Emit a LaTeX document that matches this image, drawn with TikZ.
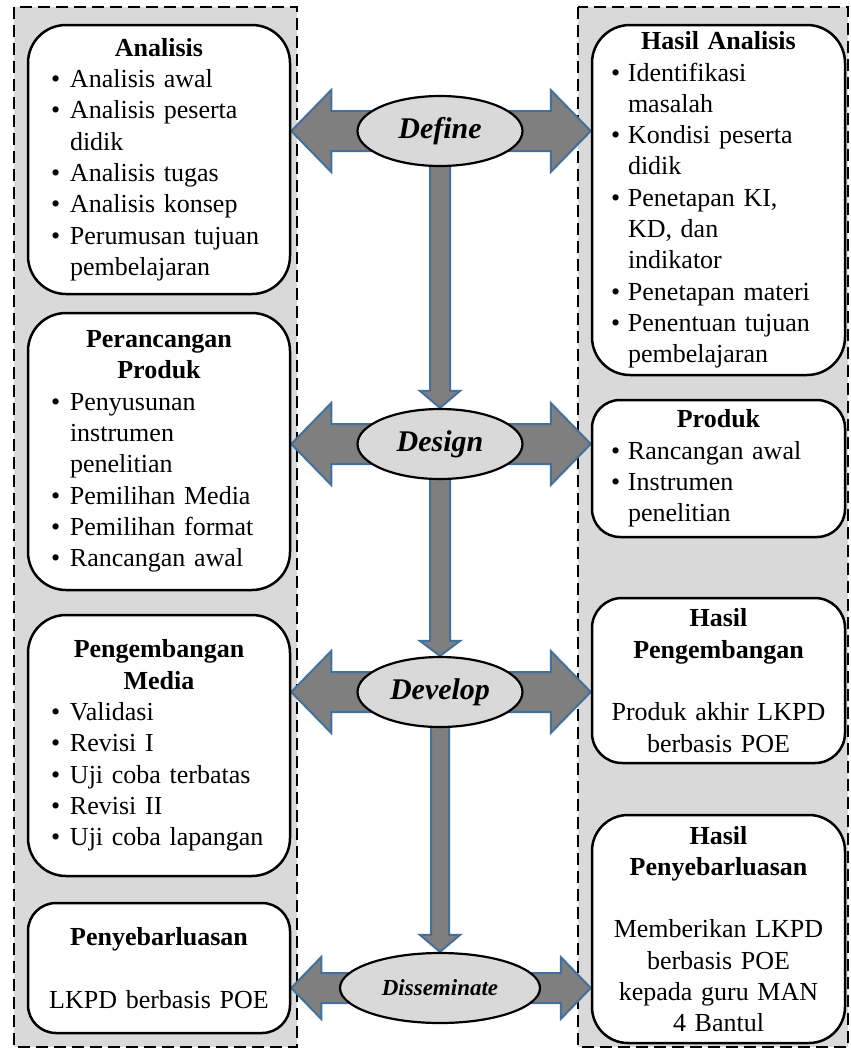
\documentclass[tikz,border=0pt]{standalone}
\usepackage{fontspec}
\setmainfont{Liberation Serif}
\usetikzlibrary{calc,shapes.geometric}
\definecolor{panelgray}{HTML}{D9D9D9}
\definecolor{arrowgray}{HTML}{7F7F7F}
\definecolor{arrowblue}{HTML}{41719C}
\pgfdeclarelayer{bg}\pgfdeclarelayer{mid}\pgfsetlayers{bg,mid,main}
\newlength\bulw
\newcommand\bul{\makebox[\bulw][l]{\textbullet}}
\newcommand\cont{\hspace*{\bulw}}
\newcommand\ttl[1]{\makebox[\linewidth]{\bfseries #1}}
\newcommand\ctr[1]{\makebox[\linewidth]{#1}}
% horizontal double arrow: left node, right node, centre node, shaft half, head half, head length
\newcommand\harrow[6]{%
  \path[arrowsty] let \p1=(#1.east), \p2=(#2.west), \p3=(#3.center) in
  (\x1,\y3) -- (\x1+#6pt,\y3+#5pt) -- (\x1+#6pt,\y3+#4pt) -- (\x2-#6pt,\y3+#4pt)
  -- (\x2-#6pt,\y3+#5pt) -- (\x2,\y3) -- (\x2-#6pt,\y3-#5pt) -- (\x2-#6pt,\y3-#4pt)
  -- (\x1+#6pt,\y3-#4pt) -- (\x1+#6pt,\y3-#5pt) -- cycle;}
% vertical arrow: from node, to node, shaft half, head half, head length
\newcommand\varrow[5]{%
  \path[arrowsty] let \p1=(#1.center), \p2=(#2.north) in
  (\x1-#3pt,\y1) -- (\x1-#3pt,\y2+#5pt) -- (\x1-#4pt,\y2+#5pt) -- (\x1,\y2)
  -- (\x1+#4pt,\y2+#5pt) -- (\x1+#3pt,\y2+#5pt) -- (\x1+#3pt,\y1) -- cycle;}
\begin{document}
\begin{tikzpicture}[x=1pt,y=-1pt,
  panel/.style={fill=panelgray, draw=black, line width=2.5pt, dash pattern=on 12pt off 6pt},
  boxbase/.style={draw=black, fill=white, line width=2.5pt, align=left, inner ysep=0pt,
    font=\fontsize{26}{31.3}\selectfont},
  lbox/.style={boxbase, inner xsep=23pt, text width=216pt, minimum width=262pt,
    execute at begin node={\setlength\bulw{19pt}}},
  rbox/.style={boxbase, inner xsep=19pt, text width=215pt, minimum width=253pt,
    execute at begin node={\setlength\bulw{17pt}}},
  phase/.style={ellipse, draw=black, fill=panelgray, line width=2.2pt, inner sep=0pt,
    minimum width=165pt, minimum height=70pt, font=\fontsize{30}{32}\selectfont\bfseries\itshape},
  arrowsty/.style={fill=arrowgray, draw=arrowblue, line width=2pt, line join=miter}]
\useasboundingbox (0,0) rectangle (851,1050);
\begin{pgfonlayer}{bg}
  \draw[panel] (14,7) rectangle (297,1047);
  \draw[panel] (578,7) rectangle (848,1047);
\end{pgfonlayer}
% left column
\node[lbox, rounded corners=38pt, minimum height=269pt] (analisis) at (159,159.5) {%
\ttl{Analisis}\\
\bul Analisis awal\\
\bul Analisis peserta\\
\cont didik\\
\bul Analisis tugas\\
\bul Analisis konsep\\
\bul Perumusan tujuan\\
\cont pembelajaran};
\node[lbox, rounded corners=38pt, minimum height=277pt] (rancang) at (159,451.5) {%
\ttl{Perancangan}\\
\ttl{Produk}\\
\bul Penyusunan\\
\cont instrumen\\
\cont penelitian\\
\bul Pemilihan Media\\
\bul Pemilihan format\\
\bul Rancangan awal};
\node[lbox, rounded corners=38pt, minimum height=261pt] (kembang) at (159,745.5) {%
\ttl{Pengembangan}\\
\ttl{Media}\\
\bul Validasi\\
\bul Revisi I\\
\bul Uji coba terbatas\\
\bul Revisi II\\
\bul Uji coba lapangan};
\node[lbox, rounded corners=28pt, minimum height=130pt] (sebar) at (159,968) {%
\ttl{Penyebarluasan}\\[31.3pt]
\ctr{LKPD berbasis POE}};
% right column
\node[rbox, rounded corners=38pt, minimum height=350pt] (hanalisis) at (718.5,200) {%
\ttl{Hasil Analisis}\\
\bul Identifikasi\\
\cont masalah\\
\bul Kondisi peserta\\
\cont didik\\
\bul Penetapan KI,\\
\cont KD, dan\\
\cont indikator\\
\bul Penetapan materi\\
\bul Penentuan tujuan\\
\cont pembelajaran};
\node[rbox, rounded corners=28pt, minimum height=137pt] (produk) at (718.5,468.5) {%
\ttl{Produk}\\
\bul Rancangan awal\\
\bul Instrumen\\
\cont penelitian};
\node[rbox, rounded corners=30pt, minimum height=165pt] (hkembang) at (718.5,680.5) {%
\ttl{Hasil}\\
\ttl{Pengembangan}\\[31.3pt]
\ctr{Produk akhir LKPD}\\
\ctr{berbasis POE}};
\node[rbox, rounded corners=36pt, minimum height=228pt] (hsebar) at (718.5,929) {%
\ttl{Hasil}\\
\ttl{Penyebarluasan}\\[31.3pt]
\ctr{Memberikan LKPD}\\
\ctr{berbasis POE}\\
\ctr{kepada guru MAN}\\
\ctr{4 Bantul}};
% phases
\node[phase] (define) at (440,131) {Define};
\node[phase] (design) at (440,444) {Design};
\node[phase] (develop) at (440,692) {Develop};
\node[phase, minimum width=200pt, font=\fontsize{23}{25}\selectfont\bfseries\itshape] (dissem) at (440,988) {Disseminate};
% arrows
\begin{pgfonlayer}{mid}
  \varrow{define}{design}{10}{20}{17}
  \varrow{design}{develop}{10}{20}{15}
  \varrow{develop}{dissem}{9}{20}{17}
  \harrow{analisis}{hanalisis}{define}{20}{41}{40}
  \harrow{rancang}{produk}{design}{20}{41}{40}
  \harrow{kembang}{hkembang}{develop}{20}{41}{40}
  \harrow{sebar}{hsebar}{dissem}{15}{31}{30}
\end{pgfonlayer}
\end{tikzpicture}
\end{document}
